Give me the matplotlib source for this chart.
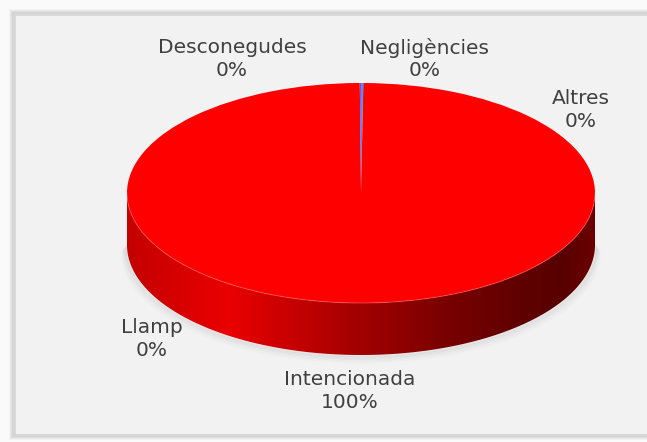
import numpy as np
import matplotlib
matplotlib.use("Agg")
import matplotlib.pyplot as plt
from matplotlib.patches import Polygon, Rectangle
from matplotlib.colors import LinearSegmentedColormap

# ---- data ----
categories = ["Negligències", "Altres", "Intencionada", "Llamp", "Desconegudes"]
values = [0.15, 0.01, 99.76, 0.01, 0.07]
colors = ["#3399ff", "#33cc33", "#ff0000", "#ff9900", "#9933ff"]

# label placement (pixel centres in the 647x442 picture)
label_pos = {
    "Desconegudes": (232, 59),
    "Negligències": (425, 59),
    "Altres": (581, 110),
    "Llamp": (152, 339),
    "Intencionada": (350, 391),
}

W, H = 647, 442
fig = plt.figure(figsize=(W / 100, H / 100), dpi=100)
fig.patch.set_facecolor("#f2f2f2")
fig.patch.set_linewidth(0)

# background panel
bg = fig.add_axes([0, 0, 1, 1])
bg.set_xlim(0, W)
bg.set_ylim(H, 0)
bg.axis("off")
# outer margin (light) on top, left and bottom
bg.add_patch(Rectangle((0, 0), W, 13, facecolor="#fafafa", edgecolor="none", linewidth=0))
bg.add_patch(Rectangle((0, 0), 13, H, facecolor="#fafafa", edgecolor="none", linewidth=0))
bg.add_patch(Rectangle((0, 436), W, 6, facecolor="#fafafa", edgecolor="none", linewidth=0))
# soft outer shadow
for k, a in enumerate([0.03, 0.05, 0.08, 0.11]):
    o = 4 - k
    bg.plot([W, 14 - o, 14 - o, W], [14 - o, 14 - o, 435 + o, 435 + o],
            color=(0, 0, 0, a), linewidth=1.2, solid_joinstyle="miter",
            solid_capstyle="butt")
bg.plot([W, 14, 14, W], [14, 14, 435, 435], color="#d6d6d6",
        linewidth=2, solid_joinstyle="miter", solid_capstyle="butt")

# pie geometry (pixels)
cx, cy, a_px, b_px, depth_px = 361, 193, 234, 110, 52
d = depth_px / b_px
left = (cx - a_px) / W
bottom = 1 - (cy + b_px + depth_px) / H
width = 2 * a_px / W
height = (2 * b_px + depth_px) / H
ax = fig.add_axes([left, bottom, width, height])
ax.axis("off")

# shadow under the pie
t = np.linspace(np.pi, 2 * np.pi, 300)
for k in range(1, 7):
    off = k * 0.012
    ax.plot(np.cos(t) * (1 + off * 0.3), np.sin(t) - d - off, color="black",
            alpha=0.05 * (7 - k) / 6, linewidth=1.5, clip_on=False,
            solid_capstyle="round")

# side wall with horizontal gradient
top_x, top_y = np.cos(t), np.sin(t)
verts = np.vstack([np.column_stack([top_x, top_y]),
                   np.column_stack([top_x[::-1], top_y[::-1] - d])])
wall = Polygon(verts, closed=True, facecolor="none", edgecolor="none")
ax.add_patch(wall)
stops_px = [127, 200, 228, 300, 360, 450, 520, 565, 595]
stops_col = ["#c40000", "#e00000", "#ea0000", "#c20000", "#a20000",
             "#780000", "#600000", "#580000", "#6c0000"]
pos = [(p - stops_px[0]) / (stops_px[-1] - stops_px[0]) for p in stops_px]
cmap = LinearSegmentedColormap.from_list("wall", list(zip(pos, stops_col)))
grad = np.linspace(0, 1, 512)[None, :]
im = ax.imshow(grad, cmap=cmap, extent=(-1, 1, -1 - d, 0), aspect="auto",
               interpolation="bilinear", zorder=1)
im.set_clip_path(wall)

# top face: the pie itself
wedges, _ = ax.pie(values, colors=colors, startangle=90, counterclock=False,
                   radius=1, center=(0, 0),
                   wedgeprops=dict(linewidth=0, antialiased=True))
for w_ in wedges:
    w_.set_zorder(2)

# rim highlight along the front edge
ax.plot(top_x, top_y, color="#ff6060", linewidth=0.8, alpha=0.5, zorder=3)

ax.set_aspect("auto")
ax.set_xlim(-1, 1)
ax.set_ylim(-1 - d, 1)

# labels
total = sum(values)
for cat, val in zip(categories, values):
    px, py = label_pos[cat]
    fig.text(px / W, 1 - py / H, f"{cat}\n{round(100 * val / total):.0f}%",
             ha="center", va="center", fontsize=14.5, color="#404040",
             linespacing=1.25, family="DejaVu Sans")

fig.savefig("out.png", dpi=100, facecolor=fig.get_facecolor(), edgecolor="none")
